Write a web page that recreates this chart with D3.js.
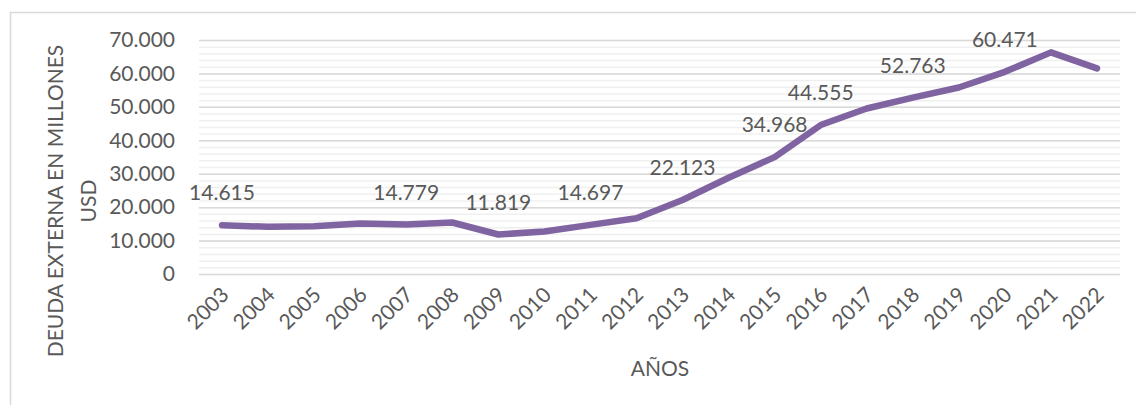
<!DOCTYPE html>
<html>
<head>
<meta charset="utf-8">
<script src="https://cdn.jsdelivr.net/npm/d3@7"></script>
<style>
  body { margin: 0; background: #fff; }
  svg text { font-family: Lato, "Open Sans", sans-serif; fill: #595959; }
</style>
</head>
<body>
<svg id="chart"></svg>
<script>
const years = ["2003", "2004", "2005", "2006", "2007", "2008", "2009", "2010", "2011", "2012",
               "2013", "2014", "2015", "2016", "2017", "2018", "2019", "2020", "2021", "2022"];
const deuda = [14615, 14100, 14300, 15100, 14779, 15400, 11819, 12700, 14697, 16700,
               22123, 28800, 34968, 44555, 49500, 52763, 55800, 60471, 66300, 61500];
const labelYears = ["2003", "2007", "2009", "2011", "2013", "2015", "2016", "2018", "2020"];
const yTicks = [0, 10000, 20000, 30000, 40000, 50000, 60000, 70000];
const yMinor = d3.range(0, 70001, 2000);

const width = 1136;
const height = 405;
const leftBorder = 199;
const rightBorder = 1120;
const topBorder = 40;
const botBorder = 274;

const es = d3.formatLocale({ decimal: ",", thousands: ".", grouping: [3], currency: ["", "$"] });
const fmt = es.format(",d");

const svg = d3.select("#chart").attr("width", width).attr("height", height);
svg.append("rect").attr("width", width).attr("height", height).attr("fill", "#fff");
// chart frame (runs off the picture at right/bottom)
svg.append("rect")
    .attr("x", 10.5).attr("y", 12.5)
    .attr("width", 1300).attr("height", 600)
    .attr("fill", "none").attr("stroke", "#d9d9d9").attr("stroke-width", 1.5);

const x = d3.scaleBand().domain(years).range([leftBorder, rightBorder]);
const cx = d => x(d) + x.bandwidth() / 2;
const y = d3.scaleLinear().domain([0, 70000]).range([botBorder, topBorder]);

// minor grid
svg.append("g")
    .attr("transform", "translate(" + leftBorder + ",0)")
    .call(d3.axisLeft(y).tickValues(yMinor).tickSize(-(rightBorder - leftBorder)).tickFormat(""))
    .call(g => g.select(".domain").remove())
    .call(g => g.selectAll("line").attr("stroke", "#f0f0f0").attr("stroke-width", 1.5));

// major grid
svg.append("g")
    .attr("transform", "translate(" + leftBorder + ",0)")
    .call(d3.axisLeft(y).tickValues(yTicks).tickSize(-(rightBorder - leftBorder)).tickFormat(""))
    .call(g => g.select(".domain").remove())
    .call(g => g.selectAll("line").attr("stroke", "#d9d9d9").attr("stroke-width", 1.5));

// y labels
svg.append("g")
    .attr("transform", "translate(" + leftBorder + ",0)")
    .call(d3.axisLeft(y).tickValues(yTicks).tickSize(0).tickPadding(24).tickFormat(fmt))
    .call(g => g.select(".domain").remove())
    .call(g => g.selectAll("text").style("font-size", "21px").attr("font-family", null));

// x labels
svg.append("g").selectAll("text").data(years).enter().append("text")
    .attr("transform", d => "translate(" + (cx(d) + 3) + "," + 291 + ") rotate(-45)")
    .attr("text-anchor", "end")
    .attr("dy", "0.35em")
    .style("font-size", "21px")
    .text(d => d);

// line
const line = d3.line().x((d, i) => cx(years[i])).y(d => y(d));
svg.append("path")
    .datum(deuda)
    .attr("d", line)
    .attr("fill", "none")
    .attr("stroke", "#8064a2")
    .attr("stroke-width", 6.5)
    .attr("stroke-linecap", "round")
    .attr("stroke-linejoin", "round");

// data labels
svg.append("g").selectAll("text").data(labelYears).enter().append("text")
    .attr("x", d => cx(d))
    .attr("y", d => y(deuda[years.indexOf(d)]) - 32)
    .attr("dy", "0.35em")
    .attr("text-anchor", "middle")
    .style("font-size", "21px")
    .text(d => fmt(deuda[years.indexOf(d)]));

// axis titles
svg.append("text")
    .attr("x", 660).attr("y", 369).attr("dy", "0.35em")
    .attr("text-anchor", "middle")
    .style("font-size", "21px")
    .text("AÑOS");

const yTitle = svg.append("text")
    .attr("transform", "translate(56,201) rotate(-90)")
    .attr("text-anchor", "middle")
    .style("font-size", "21px");
yTitle.append("tspan").attr("x", 0).attr("y", 0).attr("dy", "0.35em").text("DEUDA EXTERNA EN MILLONES");
yTitle.append("tspan").attr("x", 0).attr("y", 33).attr("dy", "0.35em").text("USD");
</script>
</body>
</html>
